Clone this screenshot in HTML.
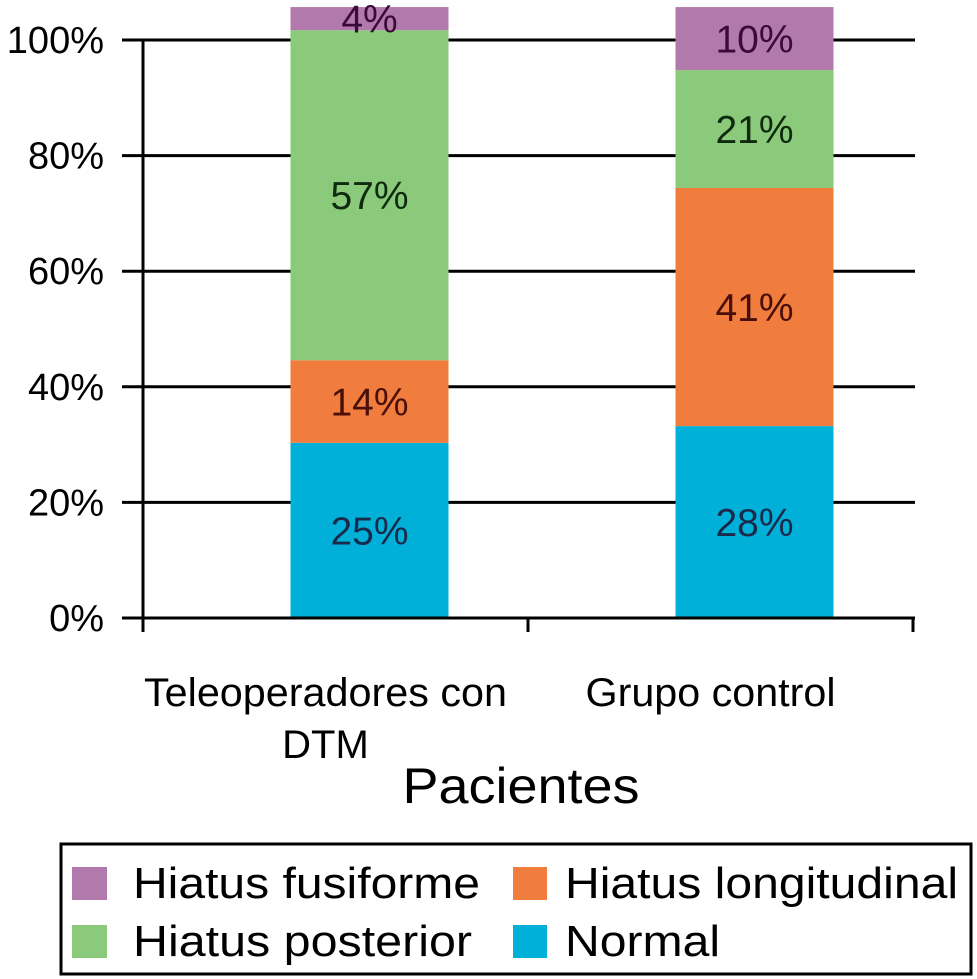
<!DOCTYPE html>
<html><head><meta charset="utf-8"><style>
html,body{margin:0;padding:0;background:#fff}
svg{display:block;font-family:"Liberation Sans",Arial,sans-serif}
</style></head><body>
<svg id="chart" width="977" height="979" viewBox="0 0 977 979">
<g id="grid"></g>
<g id="bars"></g>
<g id="axes"></g>
<text x="521" y="803" text-anchor="middle" font-size="50" textLength="237" lengthAdjust="spacingAndGlyphs" fill="#000">Pacientes</text>
<g>
<rect x="61" y="844" width="910" height="130" fill="none" stroke="#000" stroke-width="3"/>
<rect x="72" y="867" width="35" height="33" fill="#b27aac"/>
<text x="133" y="898" font-size="44" textLength="347" lengthAdjust="spacingAndGlyphs">Hiatus fusiforme</text>
<rect x="513" y="867" width="34" height="33" fill="#f07c3e"/>
<text x="565" y="898" font-size="44" textLength="393" lengthAdjust="spacingAndGlyphs">Hiatus longitudinal</text>
<rect x="72" y="925" width="35" height="33" fill="#8aca7a"/>
<text x="133" y="956" font-size="44" textLength="339" lengthAdjust="spacingAndGlyphs">Hiatus posterior</text>
<rect x="513" y="925" width="34" height="33" fill="#00b0d8"/>
<text x="565" y="956" font-size="44" textLength="155" lengthAdjust="spacingAndGlyphs">Normal</text>
</g>
</svg>
<script>
const categories = ["Teleoperadores con|DTM", "Grupo control"];
const normalHeights = [30.3, 33.2];
const longitudinalHeights = [14.3, 41.2];
const posteriorHeights = [57.1, 20.4];
const fusiformeHeights = [4.0, 10.9];
const normalLabels = ["25%", "28%"];
const longitudinalLabels = ["14%", "41%"];
const posteriorLabels = ["57%", "21%"];
const fusiformeLabels = ["4%", "10%"];
const yTicks = [0, 20, 40, 60, 80, 100];
const yTickLabels = ["0%", "20%", "40%", "60%", "80%", "100%"];

const NS = "http://www.w3.org/2000/svg";
const y0 = 618, pxPer = 5.78;
const yScale = v => y0 - v * pxPer;
const xLeft = 143, xRight = 913;
const band = (xRight - xLeft) / categories.length;
const xCenter = i => xLeft + band * (i + 0.5);
const barOffset = 34;
const barW = 158;
function mk(tag, attrs, parent){const e=document.createElementNS(NS,tag);for(const k in attrs)e.setAttribute(k,attrs[k]);parent.appendChild(e);return e;}
const grid=document.getElementById('grid'), bars=document.getElementById('bars'), axes=document.getElementById('axes');

yTicks.forEach((t,i)=>{
  const y=yScale(t);
  const l=mk('line',{x1:122,x2:915,y1:y,y2:y,stroke:'#000','stroke-width':3},grid);
  
  
  const tx=mk('text',{x:104,y:y+13,'text-anchor':'end','font-size':38},axes);
  tx.textContent=yTickLabels[i];
  
  
});

const series=[
  {h:normalHeights,lab:normalLabels,fill:'#00b0d8',tc:'#1a2a4a',name:'normal'},
  {h:longitudinalHeights,lab:longitudinalLabels,fill:'#f07c3e',tc:'#4a0f0a',name:'longitudinal'},
  {h:posteriorHeights,lab:posteriorLabels,fill:'#8aca7a',tc:'#0f2a0f',name:'posterior'},
  {h:fusiformeHeights,lab:fusiformeLabels,fill:'#b27aac',tc:'#3a0a3a',name:'fusiforme'}
];
categories.forEach((c,i)=>{
  let base=0;
  const bx=xCenter(i)+barOffset;
  series.forEach(s=>{
    const top=base+s.h[i];
    const yt=yScale(top), yb=yScale(base);
    const r=mk('rect',{x:bx-barW/2,y:yt,width:barW,height:yb-yt,fill:s.fill},bars);
    
    
    const yc=Math.max((yt+yb)/2, yt+8);
    const t=mk('text',{x:bx,y:yc+14,'text-anchor':'middle','font-size':39,fill:s.tc},bars);
    t.textContent=s.lab[i];
    
    
    base=top;
  });
  const lines=c.split('|');
  lines.forEach((ln,k)=>{
    const t=mk('text',{x:xCenter(i)-10,y:706+k*52,'text-anchor':'middle','font-size':40},axes);
    t.textContent=ln;
    if(ln.length>10){t.setAttribute('textLength', ln.length>15?363:250);t.setAttribute('lengthAdjust','spacingAndGlyphs');}
    
    
  });
});
const ya=mk('line',{x1:xLeft,x2:xLeft,y1:yScale(100)-1,y2:632,stroke:'#000','stroke-width':3},axes);


const xa=mk('line',{x1:122,x2:915,y1:y0,y2:y0,stroke:'#000','stroke-width':3},axes);


for(let k=0;k<=categories.length;k++){
  const x=xLeft+band*k;
  const tk=mk('line',{x1:x,x2:x,y1:y0,y2:632,stroke:'#000','stroke-width':3},axes);
  
  
}
</script>
</body></html>
